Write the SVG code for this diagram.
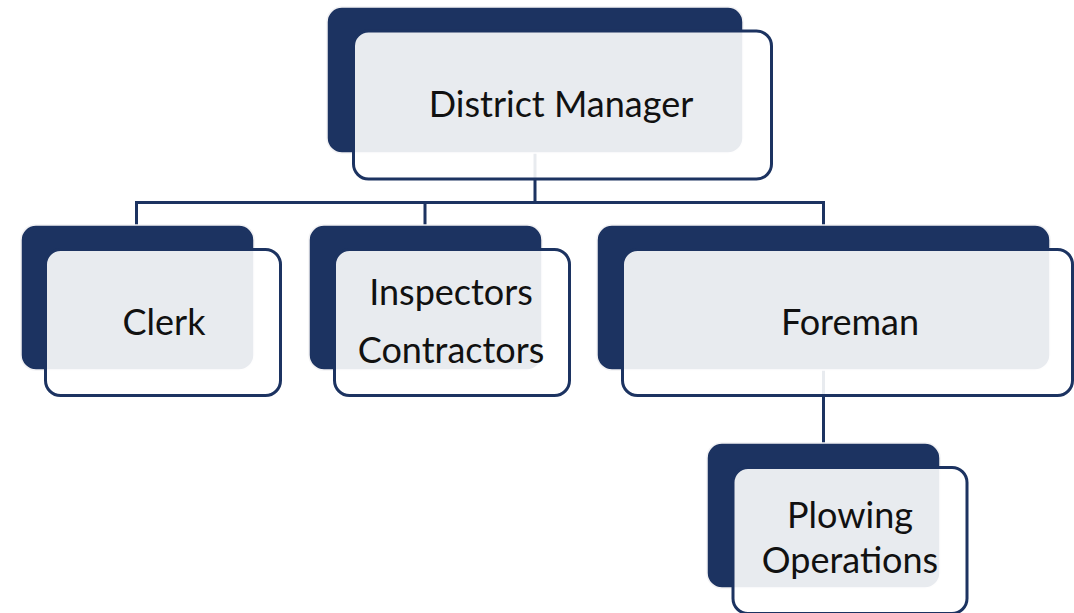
<svg xmlns="http://www.w3.org/2000/svg" width="1074" height="613" viewBox="0 0 1074 613">
  <style>
    .back { fill: #1c3361; stroke: #f2f2f4; stroke-width: 1.5; }
    .front { fill: #ffffff; fill-opacity: 0.9; stroke: #1c3361; stroke-width: 3; }
    .conn { fill: none; stroke: #1c3361; stroke-width: 3; }
    .label { font-family: Lato, "Liberation Sans", sans-serif; font-size: 36px; fill: #111111; text-anchor: middle; }
  </style>
  <rect width="1074" height="613" fill="#ffffff"/>
  <g id="connectors">
    <path class="conn" d="M535 153 V202.5 M136.5 225 V202.5 H823.5 V225 M425 202.5 V225"/>
    <path class="conn" d="M823.5 370 V443"/>
  </g>
  <g id="node-district-manager">
    <rect class="back" x="327" y="7" width="416" height="146" rx="15"/>
    <rect class="front" x="353.5" y="31" width="418" height="148" rx="15"/>
    <text class="label" x="561" y="117">District Manager</text>
  </g>
  <g id="node-clerk">
    <rect class="back" x="21" y="225" width="233" height="145" rx="15"/>
    <rect class="front" x="45.5" y="249.5" width="235" height="146" rx="15"/>
    <text class="label" x="164" y="335">Clerk</text>
  </g>
  <g id="node-inspectors">
    <rect class="back" x="309" y="225" width="233" height="145" rx="15"/>
    <rect class="front" x="334.5" y="249.5" width="235" height="146" rx="15"/>
    <text class="label" x="451" y="305">Inspectors</text>
    <text class="label" x="451" y="363">Contractors</text>
  </g>
  <g id="node-foreman">
    <rect class="back" x="597" y="225" width="453" height="145" rx="15"/>
    <rect class="front" x="622.5" y="249.5" width="450" height="146" rx="15"/>
    <text class="label" x="850" y="335">Foreman</text>
  </g>
  <g id="node-plowing">
    <rect class="back" x="707" y="443" width="233" height="145" rx="15"/>
    <rect class="front" x="733" y="467.5" width="234" height="146" rx="15"/>
    <text class="label" x="850" y="528">Plowing</text>
    <text class="label" x="850" y="573">Operations</text>
  </g>
</svg>
